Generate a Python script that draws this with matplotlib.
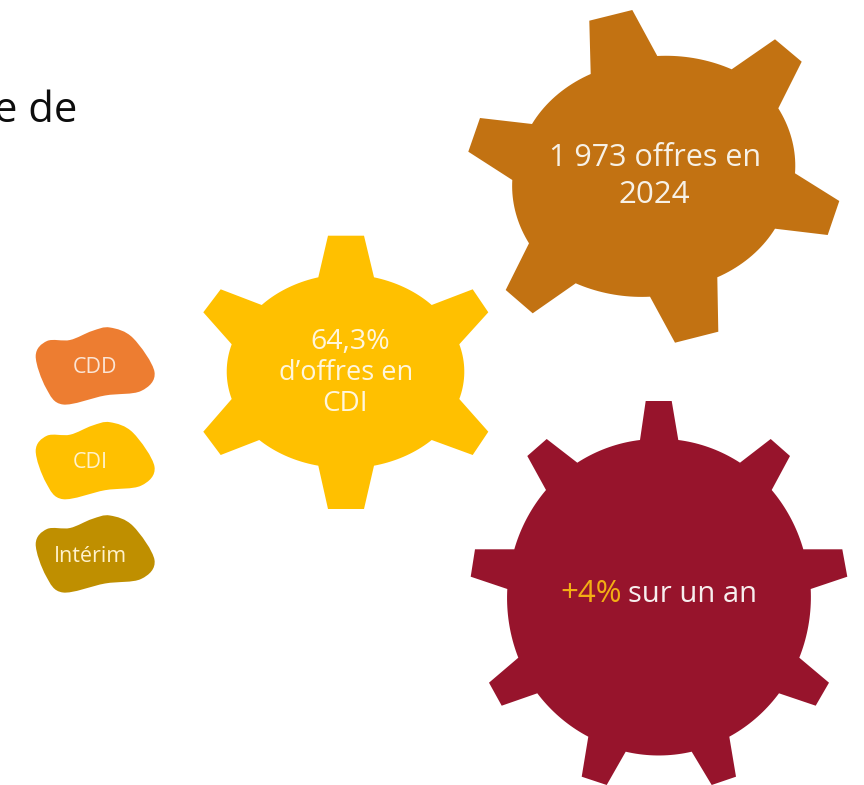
import matplotlib
matplotlib.use("Agg")
import matplotlib.pyplot as plt
from matplotlib.patches import Polygon, PathPatch
from matplotlib.path import Path
import numpy as np

plt.rcParams['font.family'] = ['Open Sans', 'DejaVu Sans']

# gear outlines (pixels): base, tip, tip, base for each tooth
brown_teeth = [[(590.7,74),(589.3,20.7),(632.3,10),(657.3,56)],
               [(731.7,69.3),(775,39.3),(801.7,61.7),(778.3,108.3)],
               [(795,173.3),(839.3,201),(827.7,235),(775,228.7)],
               [(717.3,277.3),(718.3,331.7),(675,342.7),(650,296.7)],
               [(575.7,283.3),(532.7,313.3),(505.7,290),(529,243.3)],
               [(512.3,180),(468.3,151.7),(480,118),(532,124)]]
yellow_teeth = [[(318.3,277.3),(328,235.7),(364,235.7),(374,277.3)],
                [(431.7,305),(472.7,289.3),(488.3,312.3),(459.3,344.3)],
                [(459.3,399),(488.3,431.7),(472.7,455),(431.7,440)],
                [(374,465.7),(364,509),(328,509),(318.3,465.7)],
                [(259.3,440),(220.7,455),(203.3,431.7),(231.7,399)],
                [(231.7,344.3),(203.3,312.3),(220.7,289.3),(261.7,305)]]
red_teeth = [[(640,440),(645.7,401),(671.7,401),(678.3,440)],
             [(740,462.7),(770.7,439),(790,456),(771.7,490)],
             [(803.3,549.3),(842.3,549.3),(847.3,576.7),(810.7,589)],
             [(799.3,657.7),(829,682.7),(815.7,705.7),(779,693.3)],
             [(729.3,736.7),(736,776.7),(711.7,785),(691.7,751.7)],
             [(625.7,751.7),(606.7,785),(581.7,776.7),(588.3,736.7)],
             [(537.3,693.3),(501.7,705.7),(489,682.7),(518.3,657.7)],
             [(507.3,589),(470.7,576.7),(475,549.3),(514.3,549.3)],
             [(546,490),(527.3,456),(546.7,439),(577.3,462.7)]]
gear_teeth = [brown_teeth, yellow_teeth, red_teeth]
gear_centers = [(654, 176.3), (345.7, 371.7), (658.7, 597)]
gear_radii = [(141.3, 120), (118.3, 95), (151.3, 157.7)]
gear_colors = ['#C27212', '#FFC000', '#97142C']

blob_outline = [(35.7,356),(47,341),(70,340),(92,331),(110,327.5),(133,338),
                (154.5,372),(141,391),(105,395.5),(63,404.5),(46,388)]
blob_labels = ['CDD', 'CDI', 'Intérim']
blob_shift = [0, 94.7, 188]
blob_text_x = [94.7, 90, 90.3]
blob_text_y = [372.7, 467.7, 561.7]
blob_colors = ['#ED7D31', '#FFC000', '#BF8F00']
blob_text_colors = ['#FBE5D6', '#FFF2CC', '#FFF2CC']


def gear_outline(teeth, center, radii):
    cx, cy = center
    rx, ry = radii
    pts = []
    n = len(teeth)
    for i in range(n):
        pts += teeth[i]
        # arc between this tooth and the next one, in the ellipse frame
        x0, y0 = teeth[i][3]
        x1, y1 = teeth[(i + 1) % n][0]
        a0 = np.arctan2((y0 - cy) / ry, (x0 - cx) / rx)
        a1 = np.arctan2((y1 - cy) / ry, (x1 - cx) / rx)
        if a1 < a0:
            a1 += 2 * np.pi
        r0 = np.hypot((x0 - cx) / rx, (y0 - cy) / ry)
        r1 = np.hypot((x1 - cx) / rx, (y1 - cy) / ry)
        for t in np.linspace(0, 1, 20)[1:-1]:
            a = a0 + (a1 - a0) * t
            r = r0 + (r1 - r0) * t
            pts.append((cx + rx * r * np.cos(a), cy + ry * r * np.sin(a)))
    return pts


def smooth_closed(points):
    # catmull-rom through the traced points
    p = np.array(points)
    n = len(p)
    verts = [p[0]]
    codes = [Path.MOVETO]
    for i in range(n):
        p0, p1, p2, p3 = p[i - 1], p[i], p[(i + 1) % n], p[(i + 2) % n]
        verts += [p1 + (p2 - p0) / 6, p2 - (p3 - p1) / 6, p2]
        codes += [Path.CURVE4] * 3
    return Path(verts, codes)


fig = plt.figure(figsize=(8.64, 7.85), dpi=100)
ax = fig.add_axes([0, 0, 1, 1])
ax.set_xlim(0, 864)
ax.set_ylim(785, 0)
ax.axis('off')

for teeth, center, radii, color in zip(gear_teeth, gear_centers, gear_radii, gear_colors):
    ax.add_patch(Polygon(gear_outline(teeth, center, radii), closed=True, fc=color, ec='none'))

for i, label in enumerate(blob_labels):
    outline = [(x, y + blob_shift[i]) for x, y in blob_outline]
    ax.add_patch(PathPatch(smooth_closed(outline), fc=blob_colors[i], ec='none'))
    ax.text(blob_text_x[i], blob_text_y[i], label, color=blob_text_colors[i], fontsize=15.5,
            ha='center', va='baseline')

ax.text(77, 122, 'e de', color='#0D0D0D', fontsize=30, ha='right', va='baseline')

ax.text(655, 166.5, '1 973 offres en', color='#F7F1E6', fontsize=22, ha='center', va='baseline')
ax.text(654.5, 203, '2024', color='#F7F1E6', fontsize=22.5, ha='center', va='baseline')

ax.text(350, 349, '64,3%', color='#FFF6DC', fontsize=20.5, ha='center', va='baseline')
ax.text(346.5, 380, 'd’offres en', color='#FFF6DC', fontsize=19.5, ha='center', va='baseline')
ax.text(345, 411, 'CDI', color='#FFF6DC', fontsize=20, ha='center', va='baseline')

ax.text(622, 601.5, '+4%', color='#F2AE14', fontsize=22.5, ha='right', va='baseline')
ax.text(628, 601.5, 'sur un an', color='#F7EEEE', fontsize=21, ha='left', va='baseline')

fig.savefig('out.png', dpi=100)
